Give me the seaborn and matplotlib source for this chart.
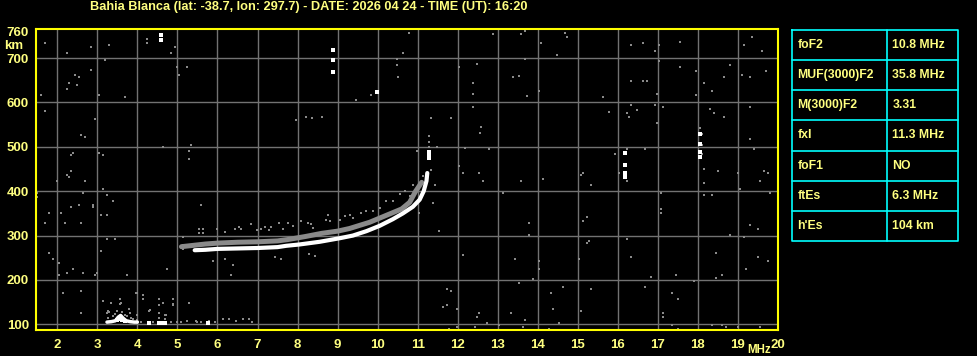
import matplotlib
matplotlib.use("Agg")
import matplotlib.pyplot as plt
import seaborn as sns
import pandas as pd

# ---------------- data ----------------
title_text = "Bahia Blanca (lat: -38.7, lon: 297.7) - DATE: 2026 04 24 - TIME (UT): 16:20"

x_ticks = list(range(2, 21))
y_ticks = [100, 200, 300, 400, 500, 600, 700, 760]

# main (white) F2 trace
o_freq = [5.43, 5.7, 6.0, 6.5, 7.0, 7.5, 7.72, 8.05, 8.55, 9.05, 9.38, 9.72, 10.05,
          10.38, 10.63, 10.88, 11.05, 11.15, 11.22, 11.24]
o_height = [267, 268, 270, 271, 272, 274, 277, 280, 286, 294, 300, 310, 322,
            337, 350, 365, 381, 400, 423, 441]

# secondary (gray) trace
x_freq = [5.1, 5.4, 5.7, 6.0, 6.5, 7.0, 7.5, 7.75, 8.2, 8.6, 9.0, 9.3, 9.8, 10.2,
          10.6, 10.8, 10.95, 11.1]
x_height = [275, 278, 281, 283, 285, 286, 288, 291, 298, 305, 310, 316, 330, 345,
            360, 375, 400, 420]

# sporadic E trace (white)
es_freq = [3.24, 3.35, 3.45, 3.52, 3.58, 3.64, 3.72, 3.82, 3.92, 4.0]
es_height = [105, 106, 108, 116, 120, 114, 108, 106, 105, 105]

# white echo spots
white_freq = [4.3, 4.55, 4.62, 4.7, 5.77, 4.59, 4.59, 8.88, 8.88, 8.88, 9.98,
              11.28, 11.28, 11.28, 16.19, 16.19, 16.19, 16.19, 18.04, 18.04, 18.04, 18.04,
              3.55, 3.62, 3.5, 3.68]
white_height = [104, 104, 104, 104, 104, 752, 740, 718, 695, 668, 623,
                474, 482, 489, 486, 460, 441, 433, 530, 506, 488, 478,
                113, 110, 110, 108]

# gray echo / noise spots
noise_freq = [
    1.69, 2.24, 2.84, 3.29, 4.24, 4.24, 4.94, 4.84, 3.19, 2.84, 2.44, 2.54, 2.29, 2.49,
    2.24, 1.59, 3.04, 3.69, 4.99, 5.24, 5.04, 1.69, 2.94, 2.59, 2.69, 4.64, 5.34, 5.29,
    5.29, 2.34, 2.39, 3.04, 3.14, 2.34, 2.24, 2.29, 2.69, 1.99, 3.14, 1.49, 1.49, 2.64,
    3.24, 3.39, 5.59, 2.34, 2.54, 2.89, 2.89, 1.79, 2.09, 3.09, 3.24, 1.69, 2.19, 2.59,
    3.24, 3.44, 3.09, 1.79, 1.89, 2.04, 2.04, 2.24, 2.39, 2.64, 2.94, 2.99, 3.74, 4.74,
    2.14, 2.59, 2.59, 5.89, 6.19, 6.39, 6.34, 7.44, 7.59, 2.13, 2.59,
    # Es region
    3.13, 3.33, 3.57, 3.57, 3.78, 3.25, 3.3, 3.82, 4.0, 4.13, 4.13, 4.28, 4.53, 4.53,
    4.63, 4.53, 4.53, 4.7, 4.7, 4.88, 4.88, 5.28, 5.23, 5.5, 5.8, 6.13, 6.3, 6.63, 6.78,
    3.27, 3.27, 3.34, 3.59, 3.97, 4.13, 4.54, 4.64, 4.89, 4.89, 5.29, 3.99, 3.99, 4.32,
    4.72, 5.47, 4.1, 4.4, 4.85, 5.0, 5.1, 5.6, 5.95, 6.45, 6.85,
    3.4, 3.45, 3.5, 3.62, 3.7, 3.75, 3.85, 3.9,
    # F region scatter
    5.14, 5.14, 5.14, 5.55, 5.63, 5.99, 6.19, 6.44, 6.54, 6.59, 6.84, 6.99, 7.09, 7.19,
    7.34, 7.29, 7.54, 7.64, 5.55, 5.63, 7.76, 7.88, 8.09, 8.26, 8.34, 8.38, 8.72, 8.8,
    9.05, 9.18, 9.3, 9.38, 9.59, 9.72, 9.88, 8.76, 10.05, 10.22, 10.38, 10.55, 10.68,
    10.88, 11.05, 11.13, 10.8, 10.8, 11.28, 11.28, 11.28, 11.33,
    # upper / right noise
    7.97, 8.2, 8.35, 8.6, 9.84, 9.47, 10.49, 10.49, 10.52, 10.64, 10.79, 11.84, 12.03,
    12.49, 12.38, 12.38, 12.38, 12.59, 12.55, 12.19, 12.79, 11.49, 10.98, 11.33, 11.43,
    11.39, 11.53, 11.03, 12.04, 12.14, 12.54, 12.64, 13.14, 13.59, 13.39, 13.54, 12.89,
    13.59, 13.69, 13.69, 13.74, 13.79, 13.79, 13.89, 13.54, 13.44, 12.14, 8.28, 8.44,
    11.74, 11.83, 11.64, 11.74, 11.98, 12.53, 12.49, 12.73, 13.34, 13.68, 11.79, 11.98,
    12.43, 13.03, 13.62,
    14.09, 14.49, 14.69, 14.74, 16.34, 16.64, 16.94, 17.04, 17.54, 17.04, 17.54, 17.94,
    18.79, 19.14, 19.34, 19.59, 19.69, 19.29, 19.09, 18.64, 18.14, 18.34, 17.94, 14.04,
    15.64, 16.34, 16.64, 16.74, 16.99, 15.79, 16.24, 16.29, 16.34, 16.49, 16.94, 17.14,
    16.99, 18.29, 18.39, 18.64, 19.29, 19.29, 19.39, 19.64, 19.74, 19.54, 19.79, 19.04,
    18.99, 18.49, 18.14, 18.14, 18.14, 18.34, 16.69, 16.24, 15.94, 16.04, 16.24, 15.34,
    15.09, 15.14, 14.14, 17.09, 17.09, 17.09, 15.24, 15.14, 16.24, 15.24, 15.29, 15.04,
    14.04, 14.04, 16.34, 18.79, 19.14, 19.29, 19.49, 18.44, 19.49, 19.74, 19.19, 18.59,
    18.44, 17.89, 17.44, 16.84, 16.69, 14.64, 14.34, 15.34, 14.39, 15.09, 14.54, 14.29,
    17.34, 17.49, 17.14, 17.14, 17.34, 17.49, 18.34, 18.59, 18.69, 18.99, 19.54,
    18.04, 18.1, 18.1, 18.1,
]
noise_height = [
    735, 712, 726, 730, 744, 735, 726, 712, 696, 673, 663, 658, 645, 640,
    631, 618, 618, 613, 681, 681, 663, 581, 563, 527, 523, 500, 505, 491,
    473, 482, 487, 487, 482, 446, 437, 432, 423, 423, 405, 396, 387, 396,
    392, 378, 369, 365, 369, 369, 365, 351, 351, 347, 347, 329, 329, 329,
    293, 293, 265, 261, 247, 238, 211, 216, 225, 216, 211, 216, 211, 225,
    171, 175, 125, 243, 247, 234, 211, 252, 247, 171, 176,
    # Es region
    153, 147, 158, 146, 134, 125, 128, 125, 170, 166, 158, 131, 157, 143,
    149, 125, 115, 120, 112, 157, 143, 149, 108, 106, 108, 111, 111, 113, 113,
    129, 114, 148, 148, 170, 167, 157, 147, 157, 146, 148, 122, 110, 133,
    122, 107, 105, 105, 105, 105, 105, 106, 106, 107, 106,
    118, 124, 130, 127, 122, 118, 114, 112,
    # F region scatter
    297, 279, 270, 315, 315, 315, 308, 315, 320, 315, 325, 312, 315, 320,
    320, 312, 329, 315, 306, 306, 329, 321, 332, 329, 325, 317, 336, 332,
    336, 344, 347, 340, 351, 355, 356, 347, 362, 377, 379, 393, 400,
    415, 419, 434, 389, 378, 500, 512, 524, 566,
    # upper / right noise
    560, 567, 566, 568, 618, 605, 697, 685, 658, 712, 757, 564, 681,
    686, 645, 620, 590, 545, 532, 498, 496, 500, 490, 447, 415,
    374, 311, 350, 456, 442, 442, 424, 397, 424, 657, 659, 754,
    754, 761, 699, 614, 329, 302, 203, 194, 248, 257, 259, 253,
    180, 176, 140, 144, 135, 126, 117, 104, 126, 110, 90, 93,
    95, 99, 95,
    735, 708, 757, 748, 730, 735, 717, 730, 737, 694, 681, 672,
    685, 730, 748, 717, 672, 658, 663, 658, 645, 627, 618, 626,
    613, 649, 649, 649, 620, 579, 577, 568, 595, 584, 595, 590,
    554, 586, 577, 568, 590, 518, 496, 446, 441, 423, 396, 405,
    441, 446, 451, 419, 392, 392, 496, 496, 484, 441, 423, 414,
    437, 441, 428, 396, 360, 351, 342, 333, 292, 283, 288, 247,
    243, 225, 252, 301, 297, 324, 315, 261, 252, 243, 225, 211,
    204, 198, 211, 207, 184, 184, 171, 180, 134, 130, 103, 89,
    171, 157, 125, 116, 98, 89, 98, 98, 94, 94, 94,
    543, 530, 505, 485,
]

table_labels = ["foF2", "MUF(3000)F2", "M(3000)F2", "fxI", "foF1", "ftEs", "h'Es"]
table_values = ["10.8 MHz", "35.8 MHz", "3.31", "11.3 MHz", "NO", "6.3 MHz", "104 km"]

# ---------------- style ----------------
sns.set_style("dark")
plt.rcParams["font.family"] = ["Liberation Sans", "DejaVu Sans"]
TXT = "#ffff80"
GRID = "#727272"
GRAYDOT = "#8a8a8a"

W, H = 978, 356
fig = plt.figure(figsize=(W / 100, H / 100), dpi=100, facecolor="black")
ax = fig.add_axes([36 / W, 25.7 / H, 742 / W, 301 / H])
ax.set_facecolor("black")

ax.set_xlim(1.467, 20.0)
ax.set_ylim(86.5, 765)

# grid
ax.vlines(x_ticks[:-1], 86.5, 765, color=GRID, lw=1, zorder=1)
ax.hlines(y_ticks[:-1], 1.467, 20, color=GRID, lw=1, zorder=1)

df_noise = pd.DataFrame({"f": noise_freq, "h": noise_height})
sns.scatterplot(data=df_noise, x="f", y="h", ax=ax, color=GRAYDOT, marker="s",
                s=3.5, linewidth=0, zorder=2, legend=False)

df_x = pd.DataFrame({"f": x_freq, "h": x_height})
sns.lineplot(data=df_x, x="f", y="h", ax=ax, color=GRAYDOT, lw=3.6, sort=False,
             estimator=None, zorder=3, legend=False)

df_o = pd.DataFrame({"f": o_freq, "h": o_height})
sns.lineplot(data=df_o, x="f", y="h", ax=ax, color="white", lw=3.0, sort=False,
             estimator=None, zorder=4, legend=False)

df_es = pd.DataFrame({"f": es_freq, "h": es_height})
sns.lineplot(data=df_es, x="f", y="h", ax=ax, color="white", lw=2.5, sort=False,
             estimator=None, zorder=4, legend=False)

df_w = pd.DataFrame({"f": white_freq, "h": white_height})
sns.scatterplot(data=df_w, x="f", y="h", ax=ax, color="white", marker="s",
                s=6, linewidth=0, zorder=5, legend=False)

# ticks & labels
ax.set_xticks(x_ticks)
ax.set_xticklabels([str(t) for t in x_ticks])
ax.set_yticks(y_ticks)
ax.set_yticklabels([str(t) for t in y_ticks])
ax.tick_params(axis="both", length=0, colors=TXT, labelsize=9.5)
ax.tick_params(axis="x", pad=6)
ax.tick_params(axis="y", pad=5)
for lab in ax.get_xticklabels() + ax.get_yticklabels():
    lab.set_fontweight("bold")
ax.set_xlabel("")
ax.set_ylabel("")
ax.grid(False)
for sp in ax.spines.values():
    sp.set_color("#ffff00")
    sp.set_linewidth(1.5)
    sp.set_visible(True)

# overlay in pixel coords
ov = fig.add_axes([0, 0, 1, 1], facecolor="none")
ov.set_xlim(0, W)
ov.set_ylim(H, 0)
ov.axis("off")

ov.text(90, 7, title_text, color=TXT, fontsize=9.2, fontweight="bold", va="center", ha="left")
ov.text(14, 46, "km", color=TXT, fontsize=9.5, fontweight="bold", va="center", ha="center")
ov.text(759.5, 350, "MHz", color=TXT, fontsize=8.3, fontweight="bold", va="center", ha="center")

# table
tl, tr, tt, tb, tm = 792.3, 957.7, 30.3, 240.7, 887.3
rh = (tb - tt) / len(table_labels)
CY = "#00ffff"
ov.plot([tl, tr, tr, tl, tl], [tt, tt, tb, tb, tt], color=CY, lw=1.2)
ov.plot([tm, tm], [tt, tb], color=CY, lw=1.2)
for i in range(1, len(table_labels)):
    ov.plot([tl, tr], [tt + i * rh, tt + i * rh], color=CY, lw=1.2)
for i, (lab, val) in enumerate(zip(table_labels, table_values)):
    yc = tt + (i + 0.5) * rh
    ov.text(797.5, yc, lab, color=TXT, fontsize=8.8, fontweight="bold", va="center", ha="left")
    ov.text(892.5, yc, val, color=TXT, fontsize=8.8, fontweight="bold", va="center", ha="left")

fig.savefig("out.png", dpi=100, facecolor="black")
